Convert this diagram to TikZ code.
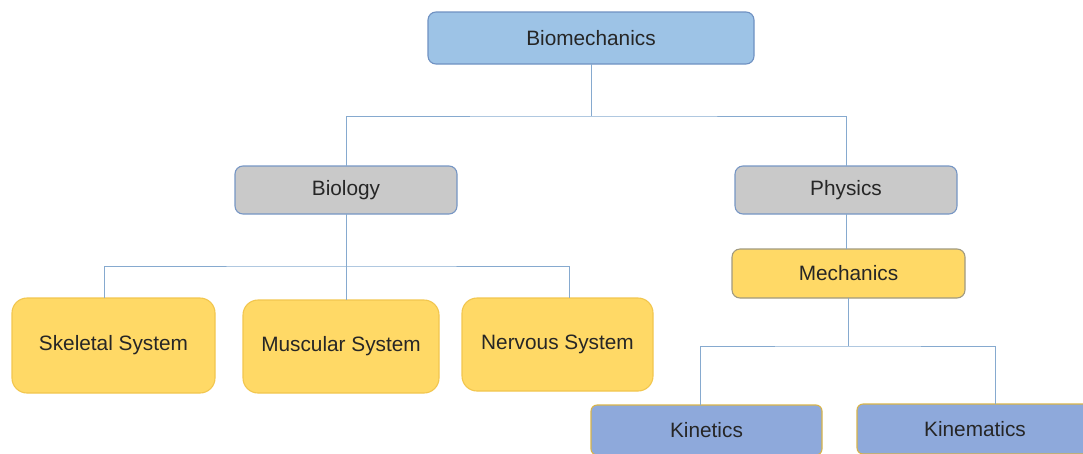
\documentclass[tikz,border=0pt]{standalone}
\usepackage{fontspec}
\setmainfont{Liberation Sans}
\definecolor{skyfill}{HTML}{9DC3E6}
\definecolor{skyline}{HTML}{6F91C2}
\definecolor{greyfill}{HTML}{C9C9C9}
\definecolor{greyline}{HTML}{7696C4}
\definecolor{goldfill}{HTML}{FFD966}
\definecolor{goldline}{HTML}{F2C64E}
\definecolor{goldgrey}{HTML}{A09A80}
\definecolor{lavfill}{HTML}{8EA9DB}
\definecolor{lavline}{HTML}{D8B449}
\definecolor{wire}{HTML}{86AACF}
\tikzset{
  box/.style={draw, line width=1.1pt, inner sep=0pt, outer sep=0pt,
    font=\fontsize{20.8}{25}\selectfont, text=black!85},
  topbox/.style={box, fill=skyfill, draw=skyline, rounded corners=8pt},
  greybox/.style={box, fill=greyfill, draw=greyline, rounded corners=8pt},
  mechbox/.style={box, fill=goldfill, draw=goldgrey, rounded corners=8pt},
  sysbox/.style={box, fill=goldfill, draw=goldline, rounded corners=15pt},
  leafbox/.style={box, fill=lavfill, draw=lavline, rounded corners=6pt},
  link/.style={draw=wire, line width=1pt}
}
\begin{document}
\begin{tikzpicture}[x=1pt,y=-1pt]
\useasboundingbox (0,0) rectangle (1083,453);

% nodes of the tree
\node[topbox, minimum width=326pt, minimum height=52pt] (bm) at (591,38) {Biomechanics};
\node[greybox, minimum width=222pt, minimum height=48pt] (biol) at (346,190) {Biology};
\node[greybox, minimum width=222pt, minimum height=48pt] (phys) at (846,190) {Physics};
\node[mechbox, minimum width=233pt, minimum height=49pt] (mech) at (848.5,273.5) {Mechanics};
\node[sysbox, minimum width=203pt, minimum height=95pt] (skel) at (113.5,345.5) {Skeletal System};
\node[sysbox, minimum width=196pt, minimum height=93pt] (musc) at (341,346.5) {Muscular System};
\node[sysbox, minimum width=191pt, minimum height=93pt] (nerv) at (557.5,344.5) {Nervous System};
\node[leafbox, minimum width=231pt, minimum height=50pt] (kinet) at (706.5,430) {Kinetics};
\node[leafbox, minimum width=236pt, minimum height=50pt] (kinem) at (975,429) {Kinematics};

% branching points
\coordinate (j1) at (591,116);
\coordinate (j2) at (346,266);
\coordinate (j3) at (848,346);

% connectors
\draw[link] (bm.south) -- (j1);
\draw[link] (biol.north) |- (j1) -| (phys.north);
\draw[link] (biol.south) -- (j2);
\draw[link] ([xshift=-9.5pt]skel.north) |- (j2) -| ([xshift=11.5pt]nerv.north);
\draw[link] (j2) -- ([xshift=5pt]musc.north);
\draw[link] (phys.south) -- (phys.south |- mech.north);
\draw[link] (mech.south -| j3) -- (j3);
\draw[link] ([xshift=-6.5pt]kinet.north) |- (j3) -| ([xshift=20pt]kinem.north);
\end{tikzpicture}
\end{document}
